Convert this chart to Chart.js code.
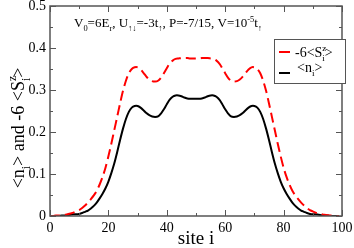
<!DOCTYPE html>
<html>
<head>
<meta charset="utf-8">
<script src="https://cdn.jsdelivr.net/npm/chart.js@4.4.0/dist/chart.umd.min.js"></script>
<style>
    html, body { margin: 0; padding: 0; background: #fff; }
</style>
</head>
<body>
<canvas id="profileChart" width="354" height="248"></canvas>
<script>
// site index along the lattice
const sites = [
    0, 1, 2, 3, 4, 5, 6, 7, 8, 9, 10, 11, 12, 13, 14, 15, 16, 17, 18, 19,
    20, 21, 22, 23, 24, 25, 26, 27, 28, 29, 30, 31, 32, 33, 34, 35, 36, 37, 38, 39,
    40, 41, 42, 43, 44, 45, 46, 47, 48, 49, 50, 51, 52, 53, 54, 55, 56, 57, 58, 59,
    60, 61, 62, 63, 64, 65, 66, 67, 68, 69, 70, 71, 72, 73, 74, 75, 76, 77, 78, 79,
    80, 81, 82, 83, 84, 85, 86, 87, 88, 89, 90, 91, 92, 93, 94, 95, 96, 97, 98, 99
];

// -6 <S^z_i>  (red dashed)
const spinValues = [
    0.000, 0.000, 0.001, 0.001, 0.002, 0.003, 0.004, 0.006, 0.008, 0.011,
    0.014, 0.019, 0.025, 0.032, 0.040, 0.049, 0.060, 0.075, 0.093, 0.115,
    0.142, 0.172, 0.204, 0.236, 0.268, 0.298, 0.322, 0.340, 0.350, 0.354,
    0.354, 0.349, 0.341, 0.332, 0.325, 0.321, 0.320, 0.322, 0.329, 0.340,
    0.352, 0.363, 0.370, 0.374, 0.375, 0.376, 0.376, 0.376, 0.375, 0.375,
    0.375, 0.375, 0.376, 0.376, 0.376, 0.375, 0.374, 0.370, 0.363, 0.352,
    0.340, 0.329, 0.322, 0.320, 0.321, 0.325, 0.332, 0.341, 0.349, 0.354,
    0.354, 0.350, 0.340, 0.322, 0.298, 0.268, 0.236, 0.204, 0.172, 0.142,
    0.115, 0.093, 0.075, 0.060, 0.049, 0.040, 0.032, 0.025, 0.019, 0.014,
    0.011, 0.008, 0.006, 0.004, 0.003, 0.002, 0.001, 0.001, 0.000, 0.000
];

// <n_i>  (black solid)
const densityValues = [
    0.000, 0.000, 0.000, 0.000, 0.001, 0.001, 0.002, 0.003, 0.004, 0.004,
    0.005, 0.007, 0.010, 0.013, 0.018, 0.024, 0.032, 0.042, 0.053, 0.066,
    0.082, 0.102, 0.125, 0.152, 0.181, 0.208, 0.231, 0.248, 0.258, 0.262,
    0.262, 0.258, 0.252, 0.245, 0.240, 0.237, 0.236, 0.237, 0.244, 0.254,
    0.266, 0.277, 0.284, 0.287, 0.287, 0.285, 0.282, 0.280, 0.279, 0.279,
    0.279, 0.279, 0.280, 0.282, 0.285, 0.287, 0.287, 0.284, 0.277, 0.266,
    0.254, 0.244, 0.237, 0.236, 0.237, 0.240, 0.245, 0.252, 0.258, 0.262,
    0.262, 0.258, 0.248, 0.231, 0.208, 0.181, 0.152, 0.125, 0.102, 0.082,
    0.066, 0.053, 0.042, 0.032, 0.024, 0.018, 0.013, 0.010, 0.007, 0.005,
    0.004, 0.004, 0.003, 0.002, 0.001, 0.001, 0.000, 0.000, 0.000, 0.000
];

const xTicks = [0, 20, 40, 60, 80, 100];
const yTicks = [0, 0.1, 0.2, 0.3, 0.4, 0.5];

const SERIF = '"Liberation Serif", "DejaVu Serif", serif';
const FRAME = '#555555';

// draws text with sub/superscripts; returns width
function richText(ctx, segs, x, y, size, doDraw) {
    let cx = x;
    segs.forEach(s => {
        let fs = size, dy = 0;
        if (s.sub) { fs = size * 0.65; dy = size * 0.32; }
        if (s.sup) { fs = size * 0.65; dy = -size * 0.42; }
        ctx.font = fs + 'px ' + SERIF;
        if (doDraw) ctx.fillText(s.t, cx, y + dy);
        const w = ctx.measureText(s.t).width;
        if (!s.hold) cx += w;
    });
    return cx - x;
}

const titleSegs = [
    {t: 'V'}, {t: '0', sub: true}, {t: '=6E'}, {t: 'r', sub: true},
    {t: ', U'}, {t: '\u2191\u2193', sub: true}, {t: '=-3t'}, {t: '\u2191', sub: true},
    {t: ', P=-7/15, V=10'}, {t: '-5', sup: true}, {t: 't'}, {t: '\u2191', sub: true}
];
const yTitleSegs = [
    {t: '<n'}, {t: 'i', sub: true}, {t: '> and -6 <S'}, {t: 'z', sup: true, hold: true},
    {t: 'i', sub: true}, {t: '>'}
];
const spinLegend = [{t: '-6<S'}, {t: 'z', sup: true, hold: true}, {t: 'i', sub: true}, {t: '>'}];
const densityLegend = [{t: '<n'}, {t: 'i', sub: true}, {t: '>'}];

const decorPlugin = {
    id: 'decor',
    afterDraw(chart) {
        const ctx = chart.ctx;
        const a = chart.chartArea;
        const xs = chart.scales.x, ys = chart.scales.y;
        ctx.save();

        // frame
        ctx.strokeStyle = FRAME;
        ctx.lineWidth = 1.5;
        ctx.strokeRect(a.left, a.top, a.right - a.left, a.bottom - a.top);

        // inward ticks on all sides
        ctx.lineWidth = 1;
        for (let v = 0; v <= 100; v += 10) {
            const px = Math.round(xs.getPixelForValue(v)) + 0.5;
            const len = v % 20 === 0 ? 6 : 3;
            ctx.beginPath();
            ctx.moveTo(px, a.bottom); ctx.lineTo(px, a.bottom - len);
            ctx.moveTo(px, a.top); ctx.lineTo(px, a.top + len);
            ctx.stroke();
        }
        for (let k = 0; k <= 10; k++) {
            const py = Math.round(ys.getPixelForValue(k * 0.05)) + 0.5;
            const len = k % 2 === 0 ? 6 : 3;
            ctx.beginPath();
            ctx.moveTo(a.left, py); ctx.lineTo(a.left + len, py);
            ctx.moveTo(a.right, py); ctx.lineTo(a.right - len, py);
            ctx.stroke();
        }

        ctx.fillStyle = '#000';
        ctx.textBaseline = 'alphabetic';
        ctx.textAlign = 'left';

        // title inside the plot
        richText(ctx, titleSegs, 74, 27, 13, true);

        // x axis title
        ctx.font = '19px ' + SERIF;
        ctx.textAlign = 'center';
        ctx.fillText('site i', 196, 244);
        ctx.textAlign = 'left';

        // y axis title (rotated)
        const yw = richText(ctx, yTitleSegs, 0, 0, 18, false);
        ctx.save();
        ctx.translate(24, 128);
        ctx.rotate(-Math.PI / 2);
        richText(ctx, yTitleSegs, -yw / 2, 0, 18, true);
        ctx.restore();

        // legend
        ctx.fillStyle = '#fff';
        ctx.fillRect(274, 39, 71, 44);
        ctx.strokeStyle = FRAME;
        ctx.lineWidth = 1;
        ctx.strokeRect(274.5, 39.5, 71, 44);

        ctx.lineWidth = 2;
        ctx.strokeStyle = '#ff0000';
        ctx.beginPath(); ctx.moveTo(279, 52); ctx.lineTo(290, 52); ctx.stroke();
        ctx.strokeStyle = '#000';
        ctx.beginPath(); ctx.moveTo(279, 73); ctx.lineTo(290, 73); ctx.stroke();

        ctx.fillStyle = '#000';
        richText(ctx, spinLegend, 295, 57, 14, true);
        richText(ctx, densityLegend, 297, 72, 14, true);

        ctx.restore();
    }
};

const ctx = document.getElementById('profileChart');
new Chart(ctx, {
    type: 'line',
    data: {
        datasets: [
            {
                label: '-6<Sz_i>',
                data: sites.map((s, i) => ({x: s, y: spinValues[i]})),
                borderColor: '#ff0000',
                borderWidth: 2,
                borderDash: [10, 5],
                pointRadius: 0,
                tension: 0.3,
                fill: false
            },
            {
                label: '<n_i>',
                data: sites.map((s, i) => ({x: s, y: densityValues[i]})),
                borderColor: '#000000',
                borderWidth: 2,
                pointRadius: 0,
                tension: 0.3,
                fill: false
            }
        ]
    },
    options: {
        responsive: false,
        animation: false,
        layout: { padding: { left: 0, top: 6, right: 12, bottom: 0 } },
        plugins: {
            legend: { display: false },
            title: { display: false },
            tooltip: { enabled: false }
        },
        scales: {
            x: {
                type: 'linear',
                min: 0,
                max: 100,
                afterBuildTicks: scale => { scale.ticks = xTicks.map(v => ({value: v})); },
                afterFit: scale => {
                    scale.height = 32;
                    scale.paddingLeft = 0;
                    scale.paddingRight = 0;
                },
                grid: { display: false, drawTicks: false },
                border: { display: false },
                ticks: {
                    padding: 4,
                    color: '#000',
                    font: { family: SERIF, size: 14 },
                    callback: v => String(v)
                }
            },
            y: {
                min: 0,
                max: 0.5,
                afterBuildTicks: scale => { scale.ticks = yTicks.map(v => ({value: v})); },
                afterFit: scale => {
                    scale.width = 50;
                    scale.paddingTop = 0;
                    scale.paddingBottom = 0;
                },
                grid: { display: false, drawTicks: false },
                border: { display: false },
                ticks: {
                    padding: 4,
                    color: '#000',
                    font: { family: SERIF, size: 14 },
                    callback: v => String(v)
                }
            }
        }
    },
    plugins: [decorPlugin]
});
</script>
</body>
</html>
